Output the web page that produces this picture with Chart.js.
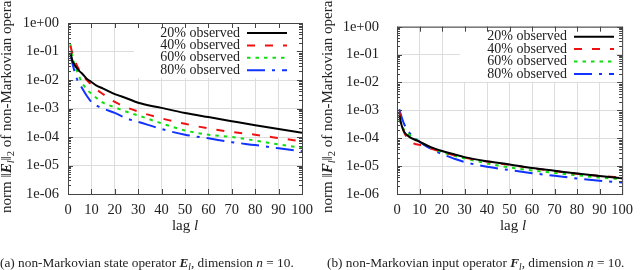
<!DOCTYPE html>
<html>
<head>
<meta charset="utf-8">
<script src="https://cdn.jsdelivr.net/npm/chart.js@4.4.0/dist/chart.umd.min.js"></script>
<style>
  body { margin: 0; background: #fff; }
  #wrap { position: relative; width: 640px; height: 270px; overflow: hidden; font-family: 'Liberation Serif', serif; color: #222; }
  .panel { position: absolute; top: 0; width: 320px; height: 270px; }
  .ytitle { position: absolute; top: 213px; transform-origin: 0 0; transform: rotate(-90deg); white-space: nowrap; font-size: 15px; line-height: 15px; }
  .xtitle { position: absolute; top: 217px; font-size: 15px; white-space: nowrap; transform: translateX(-50%); }
  .caption { position: absolute; top: 255px; font-size: 13.3px; white-space: nowrap; }
  sub { font-size: 70%; vertical-align: -0.3em; line-height: 0; }
</style>
</head>
<body>
<div id="wrap">
  <div class="panel" style="left:0"><canvas id="chartE" width="320" height="270"></canvas></div>
  <div class="panel" style="left:320px"><canvas id="chartF" width="320" height="270"></canvas></div>
  <div class="ytitle" style="left:-1px">norm ‖<b><i>E</i></b><sub><i>l</i></sub>‖<sub>2</sub> of non-Markovian operator</div>
  <div class="ytitle" style="left:320px">norm ‖<b><i>F</i></b><sub><i>l</i></sub>‖<sub>2</sub> of non-Markovian operator</div>
  <div class="xtitle" style="left:185px">lag <i>l</i></div>
  <div class="xtitle" style="left:513px">lag <i>l</i></div>
  <div class="caption" style="left:0">(a) non-Markovian state operator <b><i>E</i></b><sub><i>l</i></sub>, dimension <i>n</i> = 10.</div>
  <div class="caption" style="left:327px">(b) non-Markovian input operator <b><i>F</i></b><sub><i>l</i></sub>, dimension <i>n</i> = 10.</div>
</div>
<script>
const lags = [1, 2, 3, 4, 5, 6, 8, 10, 12, 15, 20, 25, 30, 40, 50, 60, 70, 80, 90, 100];

const seriesNames = ['20% observed', '40% observed', '60% observed', '80% observed'];

// (a) state operator E_l
const e20 = [0.09, 0.045, 0.032, 0.025, 0.02, 0.017, 0.011, 0.0085, 0.0065, 0.005, 0.0032, 0.0023, 0.0016, 0.00105, 0.0007, 0.0005, 0.00036, 0.00026, 0.00019, 0.00014];
const e40 = [0.16, 0.08, 0.045, 0.03, 0.021, 0.015, 0.01, 0.0068, 0.0048, 0.0032, 0.0017, 0.0011, 0.00078, 0.00045, 0.00029, 0.0002, 0.00015, 0.00012, 0.000092, 0.00007];
const e60 = [0.18, 0.06, 0.03, 0.019, 0.012, 0.008, 0.0048, 0.0033, 0.0024, 0.0016, 0.0011, 0.00077, 0.00057, 0.0003, 0.00017, 0.00012, 0.0001, 0.000075, 0.000055, 0.000042];
const e80 = [0.085, 0.035, 0.018, 0.01, 0.0072, 0.0052, 0.0028, 0.0017, 0.0013, 0.001, 0.0007, 0.00045, 0.00034, 0.00019, 0.00012, 0.00009, 0.000066, 0.000052, 0.00004, 0.000032];

// (b) input operator F_l
const f20 = [7e-4, 3e-4, 1.8e-4, 1.4e-4, 1.2e-4, 1.05e-4, 8.8e-5, 7.5e-5, 6.2e-5, 4.8e-5, 3.5e-5, 2.7e-5, 2.1e-5, 1.5e-5, 1.15e-5, 8.5e-6, 6.8e-6, 5.4e-6, 4.4e-6, 3.7e-6];
const f40 = [9e-4, 4e-4, 1.8e-4, 1.2e-4, 9e-5, 7.5e-5, 6.2e-5, 5.8e-5, 5.2e-5, 4.3e-5, 3.2e-5, 2.5e-5, 2e-5, 1.45e-5, 1.1e-5, 8.5e-6, 6.7e-6, 5.3e-6, 4.5e-6, 3.9e-6];
const f60 = [4.7e-4, 3e-4, 2.1e-4, 1.7e-4, 1.45e-4, 1.25e-4, 9.5e-5, 7.8e-5, 6.3e-5, 4.6e-5, 3.2e-5, 2.4e-5, 1.9e-5, 1.25e-5, 9e-6, 7e-6, 5.7e-6, 4.7e-6, 3.9e-6, 3.4e-6];
const f80 = [1.1e-3, 6e-4, 3.5e-4, 2.4e-4, 1.8e-4, 1.4e-4, 1e-4, 7.5e-5, 5.8e-5, 4.2e-5, 2.7e-5, 1.9e-5, 1.4e-5, 9.5e-6, 7.2e-6, 5.6e-6, 4.5e-6, 3.6e-6, 3e-6, 2.6e-6];

const yTicks = [1, 1e-1, 1e-2, 1e-3, 1e-4, 1e-5, 1e-6];
const xTicks = [0, 10, 20, 30, 40, 50, 60, 70, 80, 90, 100];

const lineColors = ['#000000', '#ee1111', '#11dd11', '#1133ff'];
const lineDashes = [[], [8, 10], [3.5, 5], [18, 7, 3, 7]];

const FONT = "'Liberation Serif', serif";

function fmtExp(v) {
    const e = Math.round(Math.log10(v));
    return '1e' + (e < 0 ? '-' : '+') + String(Math.abs(e)).padStart(2, '0');
}

// gnuplot style frame: border, inward ticks and an opaque key box
const framePlugin = {
    id: 'frame',
    beforeDatasetsDraw(chart, args, opts) {
        const a = chart.chartArea;
        const ctx = chart.ctx;
        ctx.save();
        ctx.fillStyle = '#fff';
        ctx.fillRect(a.left + opts.boxLeft, a.top + 1, a.right - 6 - (a.left + opts.boxLeft), 54);
        ctx.restore();
    },
    afterDatasetsDraw(chart, args, opts) {
        const a = chart.chartArea;
        const ctx = chart.ctx;
        const xs = chart.scales.x, ys = chart.scales.y;
        ctx.save();
        ctx.strokeStyle = '#444';
        ctx.lineWidth = 1;
        ctx.strokeRect(a.left + 0.5, a.top + 0.5, a.right - a.left, a.bottom - a.top);
        ctx.beginPath();
        xTicks.forEach(v => {
            const x = Math.round(xs.getPixelForValue(v)) + 0.5;
            ctx.moveTo(x, a.bottom); ctx.lineTo(x, a.bottom - 5);
            ctx.moveTo(x, a.top); ctx.lineTo(x, a.top + 5);
        });
        yTicks.forEach(v => {
            const y = Math.round(ys.getPixelForValue(v)) + 0.5;
            ctx.moveTo(a.left, y); ctx.lineTo(a.left + 5, y);
            ctx.moveTo(a.right, y); ctx.lineTo(a.right - 5, y);
        });
        yTicks.slice(1).forEach(v => {
            for (let k = 2; k <= 9; k++) {
                const y = Math.round(ys.getPixelForValue(v * k)) + 0.5;
                ctx.moveTo(a.left, y); ctx.lineTo(a.left + 3, y);
                ctx.moveTo(a.right, y); ctx.lineTo(a.right - 3, y);
            }
        });
        ctx.stroke();

        // key
        ctx.font = '14px ' + FONT;
        ctx.fillStyle = '#222';
        ctx.textAlign = 'right';
        ctx.textBaseline = 'middle';
        seriesNames.forEach((name, i) => {
            const y = a.top + 10 + i * 12.4;
            ctx.fillText(name, a.left + opts.textRight, y);
            ctx.beginPath();
            ctx.strokeStyle = lineColors[i];
            ctx.lineWidth = 2;
            ctx.setLineDash(lineDashes[i]);
            ctx.moveTo(a.left + opts.textRight + 7, y);
            ctx.lineTo(a.left + opts.textRight + 47, y);
            ctx.stroke();
        });
        ctx.restore();
    }
};

function makeChart(id, data, yWidth, rightPad, key) {
    const ctx = document.getElementById(id).getContext('2d');
    return new Chart(ctx, {
        type: 'line',
        data: {
            datasets: data.map((vals, i) => ({
                label: seriesNames[i],
                data: lags.map((l, j) => ({ x: l, y: vals[j] })),
                borderColor: lineColors[i],
                borderDash: lineDashes[i],
                borderWidth: 2,
                pointRadius: 0,
                fill: false,
                cubicInterpolationMode: 'monotone'
            }))
        },
        options: {
            responsive: false,
            animation: false,
            devicePixelRatio: 1,
            layout: { padding: { left: 0, right: rightPad, top: 23, bottom: 0 } },
            plugins: {
                legend: { display: false },
                tooltip: { enabled: false },
                frame: key
            },
            scales: {
                x: {
                    type: 'linear',
                    min: 0,
                    max: 100,
                    afterFit: s => { s.height = 76; },
                    afterBuildTicks: s => { s.ticks = xTicks.map(v => ({ value: v })); },
                    grid: { color: '#dddddd', drawTicks: false },
                    border: { display: false },
                    ticks: { padding: 7, autoSkip: false, color: '#222', font: { family: FONT, size: 14.5 }, maxRotation: 0 }
                },
                y: {
                    type: 'logarithmic',
                    min: 1e-6,
                    max: 1,
                    afterFit: s => { s.width = yWidth; },
                    afterBuildTicks: s => { s.ticks = yTicks.map(v => ({ value: v })); },
                    grid: { color: '#dddddd', drawTicks: false },
                    border: { display: false },
                    ticks: { padding: yWidth - 59, color: '#222', font: { family: FONT, size: 14.5 }, callback: v => fmtExp(v) }
                }
            }
        },
        plugins: [framePlugin]
    });
}

makeChart('chartE', [e20, e40, e60, e80], 68, 18, { boxLeft: 66, textRight: 172 });
makeChart('chartF', [f20, f40, f60, f80], 77, 10, { boxLeft: 63, textRight: 170 });
</script>
</body>
</html>
